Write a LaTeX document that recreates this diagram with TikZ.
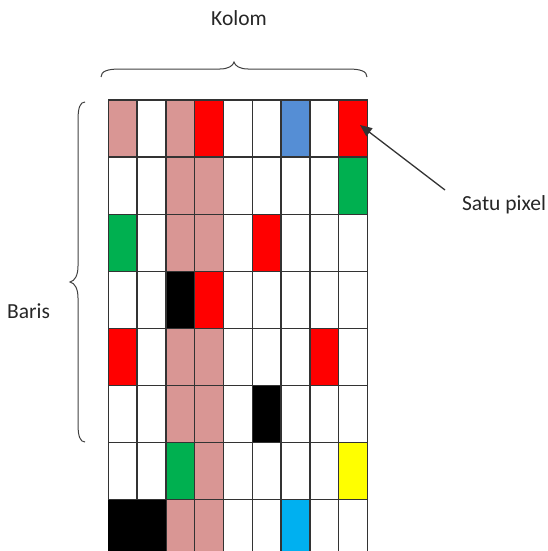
\documentclass[tikz,border=0pt]{standalone}
\usepackage{fontspec}
\setmainfont{Carlito}
\usetikzlibrary{arrows.meta}
\definecolor{pk}{HTML}{D99694}
\definecolor{rd}{HTML}{FF0000}
\definecolor{bl}{HTML}{558ED5}
\definecolor{gr}{HTML}{00B050}
\definecolor{cy}{HTML}{00B0F0}
\definecolor{ye}{HTML}{FFFF00}
\definecolor{bk}{HTML}{000000}
\begin{document}
\begin{tikzpicture}[x=1pt,y=-1pt,
  cell/.style={draw=black!80, line width=1.3pt, minimum width=28.8pt, minimum height=57.1pt, inner sep=0pt, outer sep=0pt, anchor=north west},
  lbl/.style={font=\fontsize{21.5}{25}\selectfont, text=black!85, inner sep=0pt},
  brc/.style={draw=black!75, line width=1pt},
  arr/.style={draw=black!80, line width=1.3pt, -{Triangle[length=12pt,width=10pt]}}]
\useasboundingbox (0,0) rectangle (547,551);
\begin{scope}
\clip (0,0) rectangle (547,551);
\foreach \row/\cols in {
  0/{pk,white,pk,rd,white,white,bl,white,rd},
  1/{white,white,pk,pk,white,white,white,white,gr},
  2/{gr,white,pk,pk,white,rd,white,white,white},
  3/{white,white,bk,rd,white,white,white,white,white},
  4/{rd,white,pk,pk,white,white,white,rd,white},
  5/{white,white,pk,pk,white,bk,white,white,white},
  6/{white,white,gr,pk,white,white,white,white,ye},
  7/{bk,bk,pk,pk,white,white,cy,white,white}} {
  \foreach \c [count=\i from 0] in \cols {
    \node[cell, fill=\c] (c-\row-\i) at ({108.3+28.8*\i},{100+57.1*\row}) {};
  }
}
\fill[black] (c-7-0.north west) rectangle (c-7-1.south east);
\end{scope}
% top brace
\draw[brc] (101,77) .. controls (101,71) and (108,69) .. (120,69) -- (220,69)
  .. controls (228,69) and (233,66) .. (234,62)
  .. controls (235,66) and (240,69) .. (248,69) -- (348,69)
  .. controls (360,69) and (367,71) .. (367,77);
% left brace
\draw[brc] (85,102) .. controls (80,102) and (78,108) .. (78,120) -- (78,266)
  .. controls (78,275) and (75,281) .. (70,282)
  .. controls (75,283) and (78,289) .. (78,298) -- (78,424)
  .. controls (78,436) and (80,442) .. (85,442);
\node[lbl] (kolom) at (239,18) {Kolom};
\node[lbl] (baris) at (28.5,311) {Baris};
\node[lbl] (satu) at (504,205) {Satu pixel};
\coordinate (tail) at (445,190);
\coordinate (tip) at (360,125);
\draw[arr] (tail) -- (tip);
\end{tikzpicture}
\end{document}
